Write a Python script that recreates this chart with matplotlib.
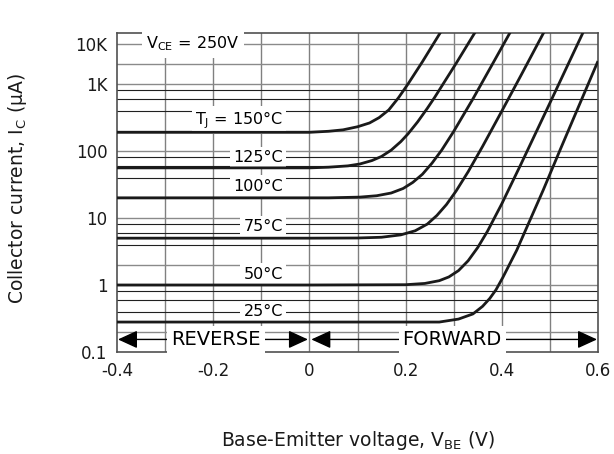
import matplotlib
matplotlib.use("Agg")
import matplotlib.pyplot as plt
from matplotlib.ticker import NullLocator

plt.rcParams['font.family'] = ['DejaVu Sans']
plt.rcParams['mathtext.fontset'] = 'dejavusans'

# Collector current (uA) versus base-emitter voltage (V) for each junction temperature
v150 = [-0.4, 0.0, 0.04, 0.07, 0.10, 0.125, 0.145, 0.165, 0.185, 0.205, 0.235, 0.275]
i150 = [190, 190, 197, 207, 230, 262, 315, 410, 620, 1000, 2150, 6300]

v125 = [-0.4, 0.0, 0.04, 0.08, 0.105, 0.13, 0.15, 0.17, 0.19, 0.205, 0.225, 0.245, 0.26, 0.305, 0.345]
i125 = [56, 56, 57.3, 60, 64, 72, 83, 103, 138, 180, 272, 432, 625, 2030, 6000]

v100 = [-0.4, 0.0, 0.04, 0.105, 0.14, 0.17, 0.195, 0.215, 0.235, 0.255, 0.275, 0.30, 0.34, 0.38, 0.418]
i100 = [20, 20, 20, 20.5, 21.5, 23.6, 27.6, 34, 45, 66, 103, 196, 600, 1950, 6000]

v75 = [-0.4, 0.0, 0.10, 0.15, 0.19, 0.22, 0.245, 0.265, 0.285, 0.305, 0.33, 0.36, 0.40, 0.44, 0.49]
i75 = [5, 5, 5.03, 5.16, 5.6, 6.45, 8.1, 10.9, 15.9, 25.3, 49, 117, 394, 1350, 6400]

v50 = [-0.4, 0.0, 0.2, 0.24, 0.27, 0.29, 0.31, 0.33, 0.35, 0.37, 0.40, 0.44, 0.50, 0.57]
i50 = [1, 1, 1.01, 1.055, 1.16, 1.32, 1.64, 2.3, 3.63, 6.3, 16.3, 64, 520, 6100]

v25 = [-0.4, 0.0, 0.27, 0.31, 0.34, 0.36, 0.375, 0.388, 0.402, 0.431, 0.486, 0.521, 0.6]
i25 = [0.28, 0.28, 0.28, 0.31, 0.37, 0.48, 0.63, 0.85, 1.29, 3.3, 26, 103, 2200]

curves = [(v150, i150), (v125, i125), (v100, i100), (v75, i75), (v50, i50), (v25, i25)]

# curve labels: (text, current level where the label sits)
curve_labels = [
    (r'$\mathregular{T_J}$ = 150°C', 290),
    ('125°C', 80),
    ('100°C', 30),
    ('75°C', 7.5),
    ('50°C', 1.45),
    ('25°C', 0.4),
]

x_ticks = [-0.4, -0.2, 0.0, 0.2, 0.4, 0.6]
x_ticklabels = ['-0.4', '-0.2', '0', '0.2', '0.4', '0.6']
y_ticks = [0.1, 1, 10, 100, 1000, 4000]
y_ticklabels = ['0.1', '1', '10', '100', '1K', '10K']

grid_x = [-0.3, -0.2, -0.1, 0.0, 0.1, 0.2, 0.3, 0.4, 0.5]
grid_y_light = [0.2, 1, 2, 10, 20, 100, 200, 1000, 2000, 4000]
grid_y_dark = [0.4, 0.6, 0.8, 4, 6, 8, 40, 60, 80, 400, 600, 800]

fig = plt.figure(figsize=(6.14, 4.54), dpi=100)
ax = fig.add_axes([117 / 614, 1 - 352 / 454, 481 / 614, 319 / 454])
ax.set_yscale('log')
ax.set_xlim(-0.4, 0.6)
ax.set_ylim(0.1, 5770)

for gx in grid_x:
    ax.axvline(gx, color='#808080', lw=1.0, zorder=1)
for gy in grid_y_light:
    ax.axhline(gy, color='#8a8a8a', lw=1.0, zorder=1)
for gy in grid_y_dark:
    ax.axhline(gy, color='#202020', lw=0.8, zorder=1)

for v, i in curves:
    ax.plot(v, i, color='#1a1a1a', lw=2.0, zorder=4, solid_capstyle='butt')

label_box = dict(boxstyle='square,pad=0.2', fc='white', ec='none')
for text, level in curve_labels:
    ax.text(-0.055, level, text, ha='right', va='center', fontsize=11.5,
            bbox=label_box, zorder=3)

ax.text(-0.242, 4000, r'$\mathregular{V_{CE}}$ = 250V', ha='center', va='center',
        fontsize=11.5, bbox=dict(boxstyle='square,pad=0.3', fc='white', ec='none'),
        zorder=3, clip_on=False)

# reverse / forward bias regions
arrow_y = 0.154
arrow_kw = dict(arrowstyle='<|-|>,head_length=1.2,head_width=0.55', color='black',
                lw=1.0, shrinkA=0, shrinkB=0, mutation_scale=10)
ax.annotate('', xy=(-0.398, arrow_y), xytext=(-0.003, arrow_y), arrowprops=arrow_kw, zorder=3)
ax.annotate('', xy=(0.004, arrow_y), xytext=(0.598, arrow_y), arrowprops=arrow_kw, zorder=3)
ax.text(-0.194, arrow_y, 'REVERSE', ha='center', va='center', fontsize=14,
        bbox=label_box, zorder=3.5)
ax.text(0.2965, arrow_y, 'FORWARD', ha='center', va='center', fontsize=14,
        bbox=label_box, zorder=3.5)

ax.set_xticks(x_ticks)
ax.set_xticklabels(x_ticklabels)
ax.set_yticks(y_ticks)
ax.set_yticklabels(y_ticklabels)
ax.yaxis.set_minor_locator(NullLocator())
ax.tick_params(length=0, pad=7, labelsize=12, colors='#1a1a1a')

for s in ax.spines.values():
    s.set_color('#505050')
    s.set_linewidth(1.2)

ax.set_xlabel(r'Base-Emitter voltage, $\mathregular{V_{BE}}$ (V)', fontsize=13.5,
              va='center', color='#1a1a1a')
ax.xaxis.set_label_coords(0.501, -0.276)
ax.set_ylabel(r'Collector current, $\mathregular{I_C}$ (μA)', fontsize=13.5,
              va='center', color='#1a1a1a')
ax.yaxis.set_label_coords(-0.206, 0.5125)

fig.savefig('out.png', dpi=100)
